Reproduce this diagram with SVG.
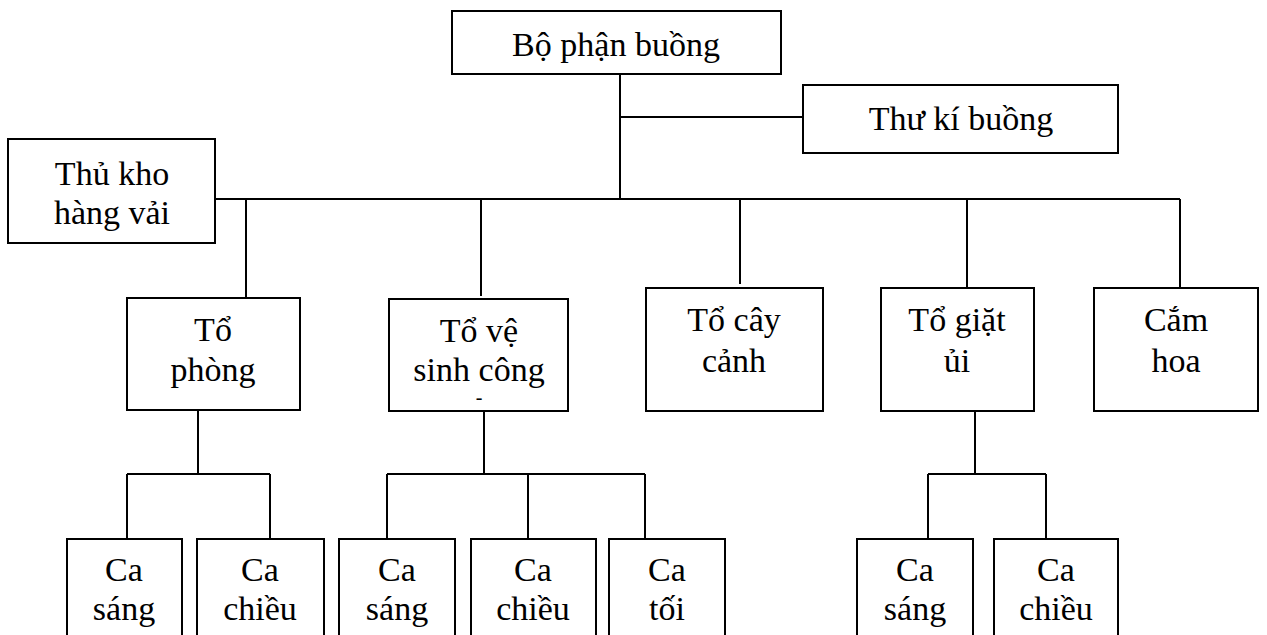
<svg xmlns="http://www.w3.org/2000/svg" width="1267" height="635" viewBox="0 0 1267 635">
<style>
.box{fill:#fff;stroke:#000;stroke-width:2}
.ln{fill:none;stroke:#000;stroke-width:2}
text{font-family:"Liberation Serif","Times New Roman",serif;font-size:34px;fill:#000;text-anchor:middle}
.sm{font-size:20px}
</style>
<rect width="1267" height="635" fill="#fff"/>
<g id="connectors">
<path class="ln" d="M620 74V199M620 117H803M215 199H1180M246 199V298M481 199V296M740 199V284M967 199V288M1180 199V288"/>
<path class="ln" d="M198 410V474M127 474H270M127 474V539M270 474V539"/>
<path class="ln" d="M484 411V474M387 474H645M387 474V539M528 474V539M645 474V539"/>
<path class="ln" d="M975 411V474M928 474H1046M928 474V539M1046 474V539"/>
</g>
<g id="bo-phan-buong"><rect class="box" x="452" y="11" width="329" height="63"/><text x="616" y="56">Bộ phận buồng</text></g>
<g id="thu-ki-buong"><rect class="box" x="803" y="85" width="315" height="68"/><text x="961" y="130">Thư kí buồng</text></g>
<g id="thu-kho"><rect class="box" x="8" y="139" width="207" height="104"/><text x="112" y="185">Thủ kho</text><text x="112" y="224">hàng vải</text></g>
<g id="to-phong"><rect class="box" x="127" y="298" width="173" height="112"/><text x="213" y="341">Tổ</text><text x="213" y="381">phòng</text></g>
<g id="to-ve-sinh"><rect class="box" x="389" y="299" width="179" height="112"/><text x="479" y="342">Tổ vệ</text><text x="479" y="381">sinh công</text><text class="sm" x="479" y="404">-</text></g>
<g id="to-cay-canh"><rect class="box" x="646" y="288" width="177" height="123"/><text x="734" y="331">Tổ cây</text><text x="734" y="372">cảnh</text></g>
<g id="to-giat-ui"><rect class="box" x="881" y="288" width="153" height="123"/><text x="957" y="331">Tổ giặt</text><text x="957" y="372">ủi</text></g>
<g id="cam-hoa"><rect class="box" x="1094" y="288" width="164" height="123"/><text x="1176" y="331">Cắm</text><text x="1176" y="372">hoa</text></g>
<g id="ca-sang-1"><rect class="box" x="67" y="539" width="115" height="110"/><text x="124" y="581">Ca</text><text x="124" y="620">sáng</text></g>
<g id="ca-chieu-1"><rect class="box" x="197" y="539" width="127" height="110"/><text x="260" y="581">Ca</text><text x="260" y="620">chiều</text></g>
<g id="ca-sang-2"><rect class="box" x="339" y="539" width="116" height="110"/><text x="397" y="581">Ca</text><text x="397" y="620">sáng</text></g>
<g id="ca-chieu-2"><rect class="box" x="471" y="539" width="125" height="110"/><text x="533" y="581">Ca</text><text x="533" y="620">chiều</text></g>
<g id="ca-toi"><rect class="box" x="609" y="539" width="116" height="110"/><text x="667" y="581">Ca</text><text x="667" y="620">tối</text></g>
<g id="ca-sang-3"><rect class="box" x="857" y="539" width="116" height="110"/><text x="915" y="581">Ca</text><text x="915" y="620">sáng</text></g>
<g id="ca-chieu-3"><rect class="box" x="994" y="539" width="124" height="110"/><text x="1056" y="581">Ca</text><text x="1056" y="620">chiều</text></g>
</svg>
